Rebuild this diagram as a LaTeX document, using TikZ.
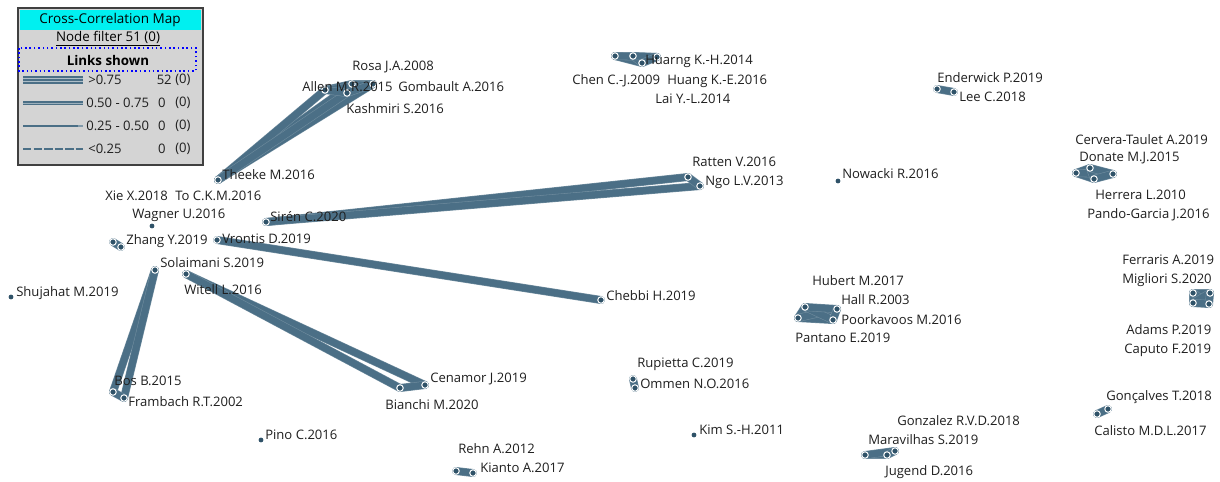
\documentclass[tikz,border=0pt]{standalone}
\usepackage{fontspec}
\setmainfont{Open Sans}
\usepackage{xcolor}
\usetikzlibrary{backgrounds}

\definecolor{linkc}{HTML}{4B6F86}
\definecolor{dotc}{HTML}{2F5268}
\definecolor{legbg}{HTML}{D4D4D4}
\definecolor{titlec}{HTML}{00F0F0}

\tikzset{
  lbl/.style={anchor=west, inner sep=0pt, font=\fontsize{9.3}{10}\selectfont, text=black!88},
  dot/.style={circle, fill=dotc, draw=white, line width=0.7pt, inner sep=0pt, minimum size=4.6pt},
  lone/.style={circle, fill=dotc, inner sep=0pt, minimum size=3.4pt},
  link/.style={draw=linkc!80!white, line width=0.4pt, double=linkc, double distance=4.9pt, line cap=round}
}

\begin{document}
\begin{tikzpicture}[x=0.025cm, y=-0.025cm]
  \useasboundingbox (0,0) rectangle (1220,481);

  % legend
  \draw[fill=legbg, draw=black!75, line width=0.8pt] (18,8) rectangle (203,165);
  \fill[titlec] (20,10) rectangle (201,30);
  \node[inner sep=0pt, font=\fontsize{9.6}{10}\selectfont] (title) at (110,20) {Cross-Correlation Map};
  \node[inner sep=0pt, font=\fontsize{9.5}{10}\selectfont] (filter) at (108,39) {\underline{Node filter 51 (0)}};
  \draw[blue, dotted, line width=1.1pt] (19,48) rectangle (196,71);
  \node[inner sep=0pt, font=\fontsize{9.5}{10}\selectfont\bfseries] (shown) at (108,60) {Links shown};
  \draw[line width=5pt, linkc] (23,80) -- (83,80);
  \draw[line width=0.5pt, linkc!45!white] (23,78.5) -- (83,78.5) (23,81.5) -- (83,81.5);
  \draw[line width=3.2pt, linkc] (23,103) -- (83,103);
  \draw[line width=0.4pt, linkc!55!white] (23,103) -- (83,103);
  \draw[line width=1.5pt, linkc] (23,126) -- (78,126);
  \draw[line width=1pt, linkc!70!white] (78,126) -- (83,126);
  \draw[line width=1pt, linkc, dash pattern=on 6pt off 1.5pt] (23,149) -- (83,149);
  \node[lbl] (r1) at (88,80) {>0.75};
  \node[lbl] (r2) at (86,103) {0.50 - 0.75};
  \node[lbl] (r3) at (86,126) {0.25 - 0.50};
  \node[lbl] (r4) at (88,149) {<0.25};
  \node[lbl, anchor=east] (n1) at (172,80) {52};
  \node[lbl, anchor=east] (n2) at (166,103) {0};
  \node[lbl, anchor=east] (n3) at (166,126) {0};
  \node[lbl, anchor=east] (n4) at (166,149) {0};
  \foreach \y in {80,103,126,149}
    \node[lbl] at (175,\y) {(0)};

  % papers with links
  \node[dot] (theeke) at (218,180) {};
  \node[dot] (rosa) at (352,84) {};
  \node[dot] (allen) at (325,90) {};
  \node[dot] (gombault) at (373,84) {};
  \node[dot] (kashmiri) at (347,93) {};
  \node[dot] (xie) at (113,242) {};
  \node[dot] (zhang) at (121,247) {};
  \node[dot] (siren) at (266,222) {};
  \node[dot] (ratten) at (688,177) {};
  \node[dot] (ngo) at (700,186) {};
  \node[dot] (vrontis) at (217,240) {};
  \node[dot] (chebbi) at (601,300) {};
  \node[dot] (solaimani) at (155,270) {};
  \node[dot] (bos) at (113,392) {};
  \node[dot] (frambach) at (124,398) {};
  \node[dot] (witell) at (186,274) {};
  \node[dot] (cenamor) at (425,385) {};
  \node[dot] (bianchi) at (400,388) {};
  \node[dot] (rehn) at (456,471) {};
  \node[dot] (kianto) at (473,473) {};
  \node[dot] (rupietta) at (633,379) {};
  \node[dot] (ommen) at (635,388) {};
  \node[dot] (chen) at (615,56) {};
  \node[dot] (huang) at (633,56) {};
  \node[dot] (lai) at (642,63) {};
  \node[dot] (huarng) at (657,57) {};
  \node[dot] (enderwick) at (937,89) {};
  \node[dot] (lee) at (954,92) {};
  \node[dot] (cervera) at (1076,173) {};
  \node[dot] (donate) at (1090,168) {};
  \node[dot] (herrera) at (1094,179) {};
  \node[dot] (pando) at (1113,174) {};
  \node[dot] (pantano) at (798,318) {};
  \node[dot] (hubert) at (805,307) {};
  \node[dot] (poorkavoos) at (833,320) {};
  \node[dot] (hall) at (837,309) {};
  \node[dot] (ferraris) at (1193,293) {};
  \node[dot] (migliori) at (1210,293) {};
  \node[dot] (adams) at (1193,303) {};
  \node[dot] (caputo) at (1209,304) {};
  \node[dot] (calisto) at (1097,414) {};
  \node[dot] (goncalves) at (1108,409) {};
  \node[dot] (maravilhas) at (865,455) {};
  \node[dot] (jugend) at (887,455) {};
  \node[dot] (gonzalez) at (895,451) {};

  % papers without links
  \node[lone] (wagner) at (152,226) {};
  \node[lone] (shujahat) at (11,297) {};
  \node[lone] (pino) at (261,440) {};
  \node[lone] (kim) at (694,435) {};
  \node[lone] (nowacki) at (838,181) {};

  \begin{scope}[on background layer]
    \foreach \a/\b in {theeke/rosa, theeke/allen, theeke/gombault, theeke/kashmiri,
        rosa/allen, rosa/gombault, rosa/kashmiri, allen/gombault, allen/kashmiri, gombault/kashmiri,
        siren/ratten, siren/ngo, ratten/ngo, vrontis/chebbi,
        solaimani/bos, solaimani/frambach, bos/frambach,
        witell/cenamor, witell/bianchi, cenamor/bianchi, xie/zhang,
        chen/huang, chen/lai, chen/huarng, huang/lai, huang/huarng, lai/huarng,
        enderwick/lee,
        cervera/donate, cervera/herrera, cervera/pando, donate/herrera, donate/pando, herrera/pando,
        pantano/hubert, pantano/poorkavoos, pantano/hall, hubert/poorkavoos, hubert/hall, poorkavoos/hall,
        ferraris/migliori, ferraris/adams, ferraris/caputo, migliori/adams, migliori/caputo, adams/caputo,
        calisto/goncalves, maravilhas/jugend, maravilhas/gonzalez, jugend/gonzalez,
        rupietta/ommen, rehn/kianto}
      \draw[link] (\a.center) -- (\b.center);
  \end{scope}

  % labels
  \node[lbl] (l-theeke) at (222,175) {Theeke M.2016};
  \node[lbl] (l-rosa) at (352,67) {Rosa J.A.2008};
  \node[lbl] (l-allen) at (302,87) {Allen M.R.2015};
  \node[lbl] (l-gombault) at (398,87) {Gombault A.2016};
  \node[lbl] (l-kashmiri) at (346,109) {Kashmiri S.2016};
  \node[lbl] (l-xie) at (105,196) {Xie X.2018};
  \node[lbl] (l-to) at (175,196) {To C.K.M.2016};
  \node[lbl] (l-wagner) at (132,215) {Wagner U.2016};
  \node[lbl] (l-zhang) at (126,241) {Zhang Y.2019};
  \node[lbl] (l-siren) at (270,217) {Sirén C.2020};
  \node[lbl] (l-vrontis) at (222,239) {Vrontis D.2019};
  \node[lbl] (l-solaimani) at (160,263) {Solaimani S.2019};
  \node[lbl] (l-witell) at (184,290) {Witell L.2016};
  \node[lbl] (l-shujahat) at (16,293) {Shujahat M.2019};
  \node[lbl] (l-bos) at (114,381) {Bos B.2015};
  \node[lbl] (l-frambach) at (128,402) {Frambach R.T.2002};
  \node[lbl] (l-pino) at (265,435) {Pino C.2016};
  \node[lbl] (l-cenamor) at (430,379) {Cenamor J.2019};
  \node[lbl] (l-bianchi) at (385,405) {Bianchi M.2020};
  \node[lbl] (l-rehn) at (458,449) {Rehn A.2012};
  \node[lbl] (l-kianto) at (480,468) {Kianto A.2017};
  \node[lbl] (l-chebbi) at (606,296) {Chebbi H.2019};
  \node[lbl] (l-rupietta) at (637,364) {Rupietta C.2019};
  \node[lbl] (l-ommen) at (640,384) {Ommen N.O.2016};
  \node[lbl] (l-kim) at (699,430) {Kim S.-H.2011};
  \node[lbl] (l-huarng) at (645,61) {Huarng K.-H.2014};
  \node[lbl] (l-chen) at (572,81) {Chen C.-J.2009};
  \node[lbl] (l-huang) at (667,81) {Huang K.-E.2016};
  \node[lbl] (l-lai) at (655,99) {Lai Y.-L.2014};
  \node[lbl] (l-ratten) at (692,162) {Ratten V.2016};
  \node[lbl] (l-ngo) at (705,182) {Ngo L.V.2013};
  \node[lbl] (l-nowacki) at (842,174) {Nowacki R.2016};
  \node[lbl] (l-enderwick) at (937,78) {Enderwick P.2019};
  \node[lbl] (l-lee) at (959,97) {Lee C.2018};
  \node[lbl] (l-cervera) at (1075,140) {Cervera-Taulet A.2019};
  \node[lbl] (l-donate) at (1079,158) {Donate M.J.2015};
  \node[lbl] (l-herrera) at (1095,195) {Herrera L.2010};
  \node[lbl] (l-pando) at (1087,215) {Pando-Garcia J.2016};
  \node[lbl] (l-hubert) at (812,281) {Hubert M.2017};
  \node[lbl] (l-hall) at (841,300) {Hall R.2003};
  \node[lbl] (l-poorkavoos) at (841,320) {Poorkavoos M.2016};
  \node[lbl] (l-pantano) at (795,338) {Pantano E.2019};
  \node[lbl] (l-ferraris) at (1122,260) {Ferraris A.2019};
  \node[lbl] (l-migliori) at (1122,280) {Migliori S.2020};
  \node[lbl] (l-adams) at (1126,330) {Adams P.2019};
  \node[lbl] (l-caputo) at (1124,350) {Caputo F.2019};
  \node[lbl] (l-goncalves) at (1106,397) {Gonçalves T.2018};
  \node[lbl] (l-calisto) at (1094,431) {Calisto M.D.L.2017};
  \node[lbl] (l-gonzalez) at (897,421) {Gonzalez R.V.D.2018};
  \node[lbl] (l-maravilhas) at (868,440) {Maravilhas S.2019};
  \node[lbl] (l-jugend) at (885,472) {Jugend D.2016};
\end{tikzpicture}
\end{document}
